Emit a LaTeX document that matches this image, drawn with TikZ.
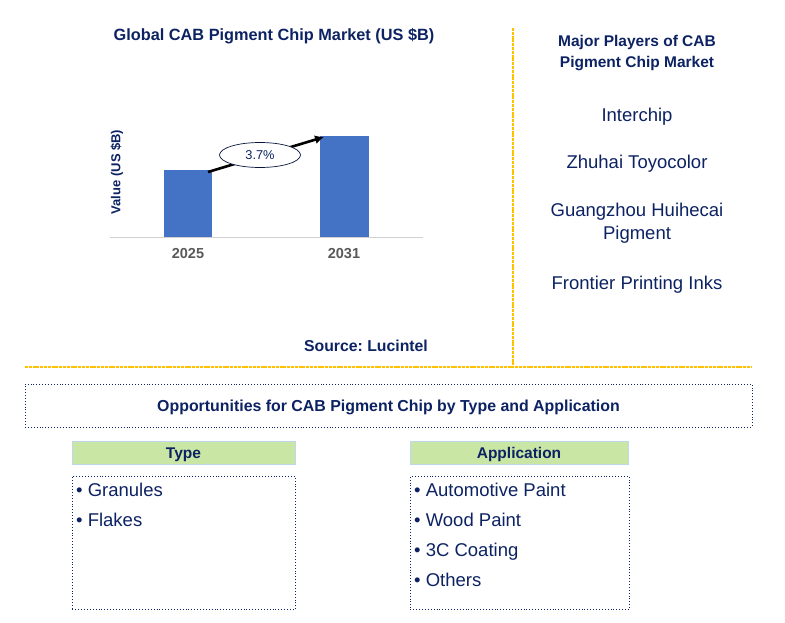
\documentclass[tikz,border=0pt]{standalone}
\usepackage{fontspec}
\setmainfont{Liberation Sans}
\frenchspacing
\usetikzlibrary{arrows.meta,shapes.geometric}
\definecolor{navy}{HTML}{0C2262}
\definecolor{barblue}{HTML}{4472C4}
\definecolor{orangeline}{HTML}{FFC000}
\definecolor{hdrfill}{HTML}{C9E6A5}
\definecolor{hdredge}{HTML}{BDD7EE}
\definecolor{yeargray}{HTML}{595959}
\tikzset{
  navytext/.style={text=navy, inner sep=0pt},
  bartile/.style={fill=barblue, draw=none},
  hdrbox/.style={fill=hdrfill, draw=hdredge, line width=0.8pt, minimum width=223pt, minimum height=23pt, inner sep=0pt},
  hdrtext/.style={navytext, anchor=base, font=\bfseries\fontsize{15.5}{18}\selectfont},
  listbox/.style={draw=navy, dotted, line width=0.9pt},
  sepline/.style={draw=orangeline, line width=1.1pt, dash pattern=on 3pt off 0.8pt},
  player/.style={navytext, anchor=base, font=\fontsize{18.5}{22}\selectfont},
  item/.style={navytext, anchor=base west, font=\fontsize{18.5}{22}\selectfont},
}
\begin{document}
\begin{tikzpicture}[x=1pt,y=-1pt]
\useasboundingbox (0,0) rectangle (785,623);
% chart title
\node[navytext, anchor=base, font=\bfseries\fontsize{16.3}{19}\selectfont] (title) at (274,41) {Global CAB Pigment Chip Market (US \$B)};
% axis
\coordinate (axl) at (110,237);
\coordinate (axr) at (423,237);
\draw[draw=black!18, line width=0.8pt] (axl) -- (axr);
\node[navytext, rotate=90, font=\bfseries\fontsize{13}{15}\selectfont] (ylab) at (117,172) {Value (US \$B)};
% bars
\node[bartile, minimum width=48pt, minimum height=67pt, inner sep=0pt, anchor=south west] (b1) at (164,237) {};
\node[bartile, minimum width=49pt, minimum height=101pt, inner sep=0pt, anchor=south west] (b2) at (320,237) {};
\node[text=yeargray, inner sep=0pt, font=\bfseries\fontsize{14.5}{17}\selectfont] (y1) at (188,254) {2025};
\node[text=yeargray, inner sep=0pt, font=\bfseries\fontsize{14.5}{17}\selectfont] (y2) at (344,254) {2031};
% growth arrow
\coordinate (as) at (208,172);
\coordinate (ae) at (324,137);
\draw[line width=2.6pt, -{Latex[length=9pt,width=9pt]}] (as) -- (ae);
\node[ellipse, draw=navy!60!black, line width=0.7pt, fill=white, minimum width=81pt, minimum height=25pt, inner sep=0pt, text=navy, font=\fontsize{12.8}{15}\selectfont] (cagr) at (260,155) {3.7\%};
% source
\node[navytext, anchor=base, font=\bfseries\fontsize{15.8}{18}\selectfont] (src) at (366,351.5) {Source: Lucintel};
% separators
\coordinate (vs1) at (513,28);
\coordinate (vs2) at (513,365);
\draw[sepline] (vs1) -- (vs2);
\coordinate (hs1) at (25,367);
\coordinate (hs2) at (751,367);
\draw[sepline] (hs1) -- (hs2);
% players
\node[navytext, anchor=base, font=\bfseries\fontsize{15.5}{18}\selectfont] (mp1) at (637,47) {Major Players of CAB};
\node[navytext, anchor=base, font=\bfseries\fontsize{15.5}{18}\selectfont] (mp2) at (637,67.5) {Pigment Chip Market};
\node[player] (p1) at (637,121.5) {Interchip};
\node[player] (p2) at (637,168) {Zhuhai Toyocolor};
\node[player] (p3a) at (637,216) {Guangzhou Huihecai};
\node[player] (p3b) at (637,240) {Pigment};
\node[player] (p4) at (637,289) {Frontier Printing Inks};
% opportunities box
\node[listbox, minimum width=727pt, minimum height=43pt, inner sep=0pt] (opp) at (388.5,405.5) {};
\node[navytext, anchor=base, font=\bfseries\fontsize{15.9}{18}\selectfont] (opptext) at (388.5,411) {Opportunities for CAB Pigment Chip by Type and Application};
% headers
\node[hdrbox] (thdr) at (183.5,452.5) {};
\node[hdrtext] (thdrt) at (183.5,458) {Type};
\node[hdrbox, minimum width=218pt] (ahdr) at (519,452.5) {};
\node[hdrtext] (ahdrt) at (519,458) {Application};
% list boxes
\node[listbox, minimum width=223pt, minimum height=133pt, inner sep=0pt, anchor=north west] (tbox) at (72,476) {};
\node[listbox, minimum width=219pt, minimum height=133pt, inner sep=0pt, anchor=north west] (abox) at (410,476) {};
\node[item] (t1) at (76,496) {• Granules};
\node[item] (t2) at (76,526) {• Flakes};
\node[item] (a1) at (414,496) {• Automotive Paint};
\node[item] (a2) at (414,526) {• Wood Paint};
\node[item] (a3) at (414,556) {• 3C Coating};
\node[item] (a4) at (414,586) {• Others};
\end{tikzpicture}
\end{document}
